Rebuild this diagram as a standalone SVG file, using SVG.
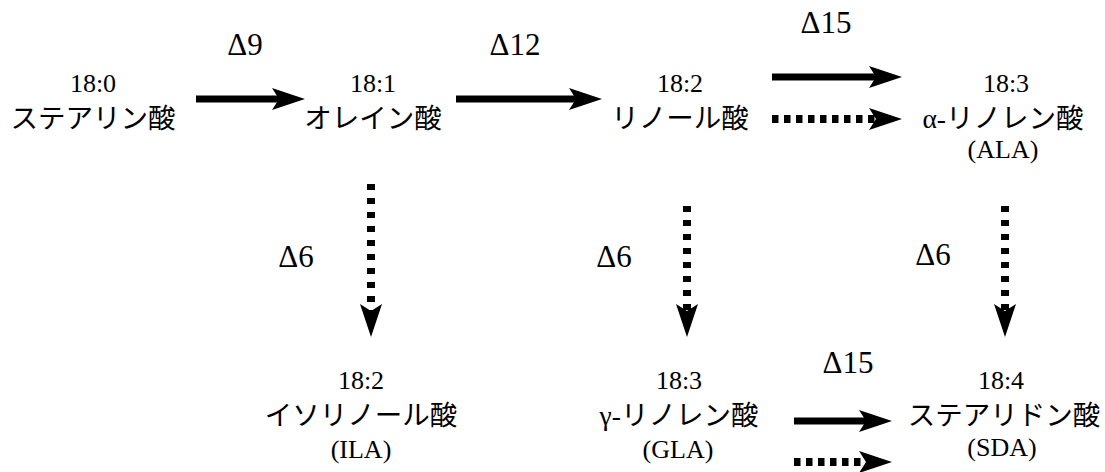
<svg xmlns="http://www.w3.org/2000/svg" width="1105" height="472" viewBox="0 0 1105 472">
  <style>
    .num { font-family: "Liberation Serif", "Times New Roman", serif; font-size: 26px; fill: #000; text-anchor: middle; }
    .jp { font-family: "Noto Sans CJK JP", sans-serif; font-size: 27.5px; fill: #000; text-anchor: middle; }
    .ser { font-family: "Liberation Serif", "Times New Roman", serif; }
    .lbl { font-family: "Liberation Serif", "Times New Roman", serif; font-size: 31px; fill: #000; text-anchor: middle; }
    .solid { stroke: #000; stroke-width: 7; fill: none; }
    .dotH { stroke: #000; stroke-width: 8; fill: none; stroke-dasharray: 6.5 5.5; }
    .dotV { stroke: #000; stroke-width: 8; fill: none; stroke-dasharray: 6 8; }
  </style>
  <defs>
    <marker id="ah" viewBox="0 0 33 22" refX="7" refY="11" markerWidth="33" markerHeight="22" markerUnits="userSpaceOnUse" orient="auto">
      <path d="M0,0 L33,11 L0,22 L7,11 Z" fill="#000"/>
    </marker>
  </defs>
  <rect width="1105" height="472" fill="#fff"/>

  <g id="connectors">
    <line class="solid" x1="196" y1="99" x2="279" y2="99" marker-end="url(#ah)"/>
    <line class="solid" x1="456" y1="99" x2="576" y2="99" marker-end="url(#ah)"/>
    <line class="solid" x1="772" y1="77" x2="876" y2="77" marker-end="url(#ah)"/>
    <line class="dotH" x1="772" y1="119" x2="876" y2="119" marker-end="url(#ah)"/>
    <line class="dotV" x1="371" y1="184" x2="371" y2="311" marker-end="url(#ah)"/>
    <line class="dotV" x1="687" y1="206" x2="687" y2="311" marker-end="url(#ah)"/>
    <line class="dotV" x1="1005" y1="206" x2="1005" y2="311" marker-end="url(#ah)"/>
    <line class="solid" x1="794" y1="421" x2="866" y2="421" marker-end="url(#ah)"/>
    <line class="dotH" x1="794" y1="462" x2="866" y2="462" marker-end="url(#ah)"/>
  </g>

  <g id="labels">
    <text class="lbl" x="245" y="55">&#916;9</text>
    <text class="lbl" x="515" y="55">&#916;12</text>
    <text class="lbl" x="826" y="33">&#916;15</text>
    <text class="lbl" x="296" y="267">&#916;6</text>
    <text class="lbl" x="614" y="267">&#916;6</text>
    <text class="lbl" x="933" y="265">&#916;6</text>
    <text class="lbl" x="848" y="373">&#916;15</text>
  </g>

  <g id="stearic">
    <text class="num" x="93" y="92">18:0</text>
    <text class="jp" x="93" y="128">ステアリン酸</text>
  </g>
  <g id="oleic">
    <text class="num" x="373" y="92">18:1</text>
    <text class="jp" x="373" y="128">オレイン酸</text>
  </g>
  <g id="linoleic">
    <text class="num" x="680" y="92">18:2</text>
    <text class="jp" x="680" y="128">リノール酸</text>
  </g>
  <g id="ala">
    <text class="num" x="1006" y="92">18:3</text>
    <text class="jp" x="1003" y="128"><tspan class="ser">α-</tspan>リノレン酸</text>
    <text class="num" x="1003" y="158">(ALA)</text>
  </g>
  <g id="ila">
    <text class="num" x="361" y="389">18:2</text>
    <text class="jp" x="361" y="425">イソリノール酸</text>
    <text class="num" x="361" y="458">(ILA)</text>
  </g>
  <g id="gla">
    <text class="num" x="679" y="389">18:3</text>
    <text class="jp" x="679" y="425"><tspan class="ser">γ-</tspan>リノレン酸</text>
    <text class="num" x="678" y="458">(GLA)</text>
  </g>
  <g id="sda">
    <text class="num" x="1001" y="389">18:4</text>
    <text class="jp" x="1004" y="425">ステアリドン酸</text>
    <text class="num" x="1002" y="456">(SDA)</text>
  </g>
</svg>
